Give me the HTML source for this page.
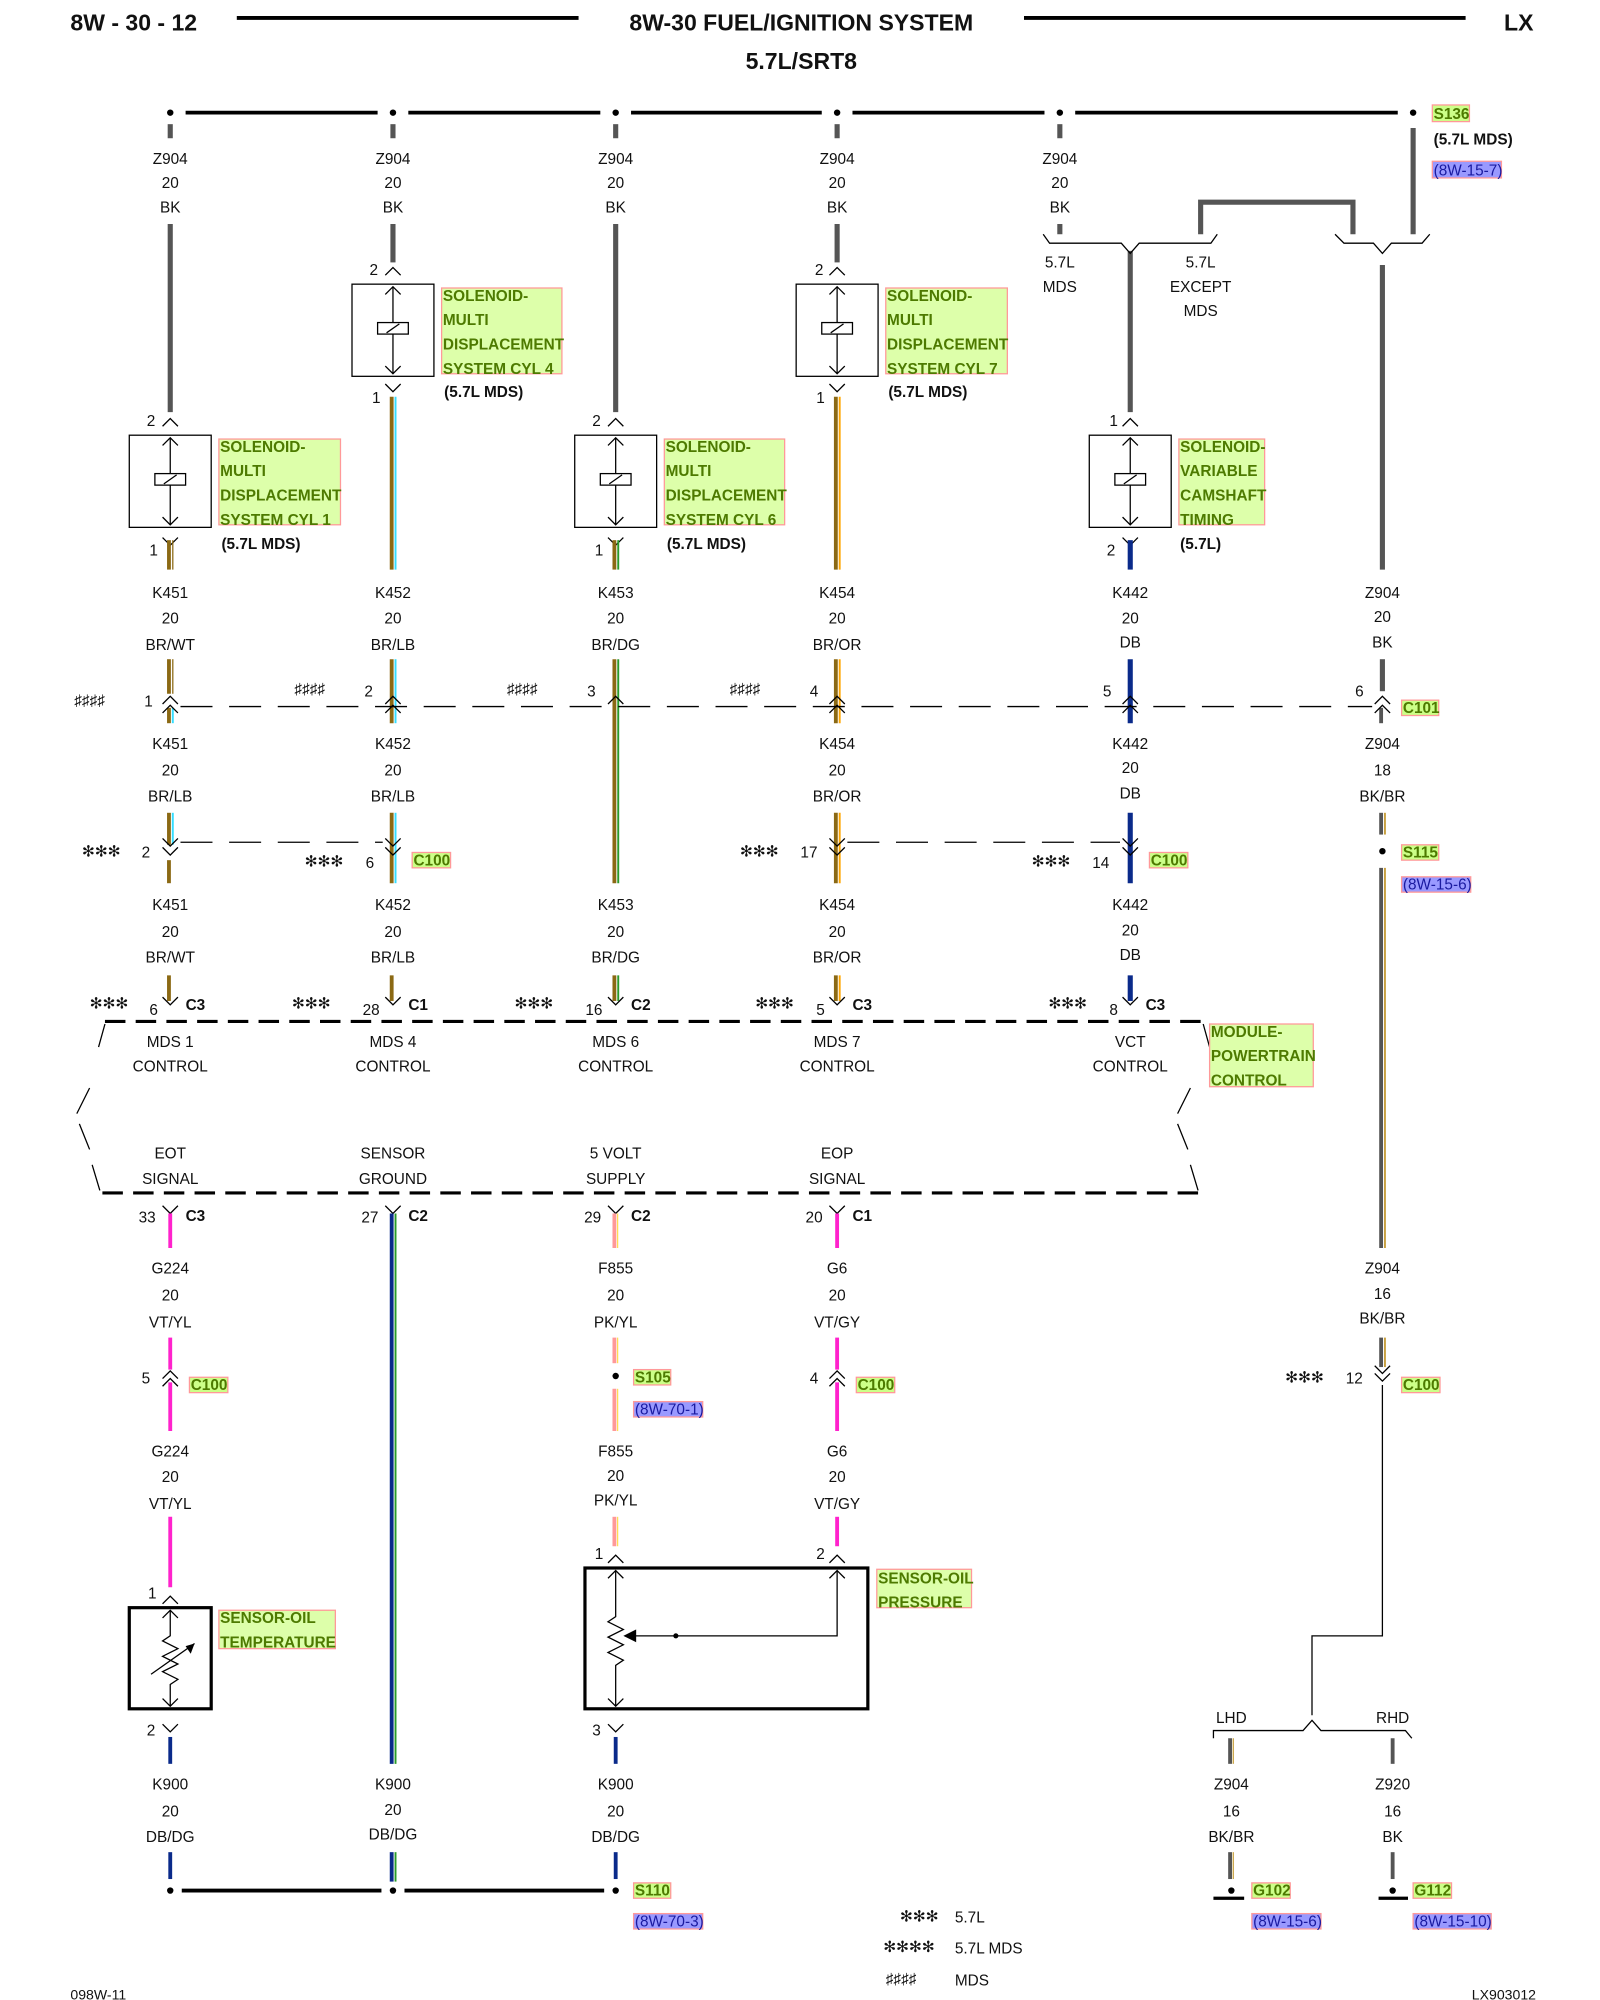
<!DOCTYPE html>
<html><head><meta charset="utf-8"><style>
html,body{margin:0;padding:0;background:#fff}
svg{display:block}
text{font-family:"Liberation Sans",sans-serif;font-size:12px;fill:#111}
.m{text-anchor:middle}
.b{font-weight:bold}
.h{font-size:18px;font-weight:bold}
.g{font-weight:bold;fill:#4d7a00;font-size:12px}
.l{fill:#1a1aa0;font-size:12px}
</style></head><body>
<svg width="1600" height="2000" viewBox="0 0 1250 1562.5" xmlns="http://www.w3.org/2000/svg">
<defs>
<path id="up" d="M-6,5 L0,-1 L6,5" fill="none" stroke="#000" stroke-width="1"/>
<path id="dn" d="M-6,-5 L0,1 L6,-5" fill="none" stroke="#000" stroke-width="1"/>
<g id="sol">
<rect x="-32" y="0" width="64" height="72" fill="#fff" stroke="#000"/>
<line x1="0" y1="2" x2="0" y2="70" stroke="#000"/>
<path d="M-6,8 L0,2 L6,8 M-6,64 L0,70 L6,64" fill="none" stroke="#000"/>
<rect x="-12" y="30" width="24" height="9" fill="#fff" stroke="#000"/>
<line x1="-5" y1="38" x2="5" y2="31" stroke="#000"/>
</g>
</defs>

<text x="55" y="24" class="h">8W - 30 - 12</text>
<line x1="185" y1="14" x2="452" y2="14" stroke="#000" stroke-width="3"/>
<text x="626" y="24" class="h m">8W-30 FUEL/IGNITION SYSTEM</text>
<line x1="800" y1="14" x2="1145" y2="14" stroke="#000" stroke-width="3"/>
<text x="1198" y="24" class="h" text-anchor="end">LX</text>
<text x="626" y="54" class="h m">5.7L/SRT8</text>

<g stroke="#000" stroke-width="3">
<line x1="145" y1="88" x2="295" y2="88"/><line x1="319" y1="88" x2="469" y2="88"/>
<line x1="493" y1="88" x2="642" y2="88"/><line x1="666" y1="88" x2="816" y2="88"/>
<line x1="840" y1="88" x2="1092" y2="88"/>
</g>
<g fill="#000"><circle cx="133" cy="88" r="2.5"/><circle cx="307" cy="88" r="2.5"/><circle cx="481" cy="88" r="2.5"/><circle cx="654" cy="88" r="2.5"/><circle cx="828" cy="88" r="2.5"/><circle cx="1104" cy="88" r="2.5"/></g>
<g stroke="#555" stroke-width="4">
<line x1="133" y1="97" x2="133" y2="108"/><line x1="307" y1="97" x2="307" y2="108"/><line x1="481" y1="97" x2="481" y2="108"/><line x1="654" y1="97" x2="654" y2="108"/><line x1="828" y1="97" x2="828" y2="108"/>
</g>
<g class="m">
<text x="133" y="128" class="m">Z904</text><text x="133" y="147" class="m">20</text><text x="133" y="166" class="m">BK</text>
<text x="307" y="128" class="m">Z904</text><text x="307" y="147" class="m">20</text><text x="307" y="166" class="m">BK</text>
<text x="481" y="128" class="m">Z904</text><text x="481" y="147" class="m">20</text><text x="481" y="166" class="m">BK</text>
<text x="654" y="128" class="m">Z904</text><text x="654" y="147" class="m">20</text><text x="654" y="166" class="m">BK</text>
<text x="828" y="128" class="m">Z904</text><text x="828" y="147" class="m">20</text><text x="828" y="166" class="m">BK</text>
</g>
<rect x="1119" y="82" width="29" height="13" fill="#ccff88" stroke="#f99"/><text x="1120" y="93" class="g">S136</text>
<text x="1120" y="113" class="b">(5.7L MDS)</text>
<rect x="1119" y="126" width="54" height="13" fill="#9999ff" stroke="#f99"/><text x="1120" y="137" class="l">(8W-15-7)</text>

<g stroke="#555" stroke-width="4" fill="none">
<line x1="133" y1="175" x2="133" y2="322"/>
<line x1="307" y1="175" x2="307" y2="205"/>
<line x1="481" y1="175" x2="481" y2="322"/>
<line x1="654" y1="175" x2="654" y2="205"/>
<line x1="828" y1="175" x2="828" y2="183"/>
<line x1="883" y1="196" x2="883" y2="322"/>
<path d="M938,183 V158 H1057 V183"/>
<line x1="1104" y1="100" x2="1104" y2="183"/>
<line x1="1080" y1="207" x2="1080" y2="445"/>
<line x1="1080" y1="515" x2="1080" y2="540"/>
</g>
<path d="M815,183 L820,190 H876 L883,198 L890,190 H946 L951,183" fill="none" stroke="#000"/>
<path d="M1043,183 L1050,190 H1073 L1080,198 L1087,190 H1111 L1117,183" fill="none" stroke="#000"/>
<text x="828" y="209" class="m">5.7L</text><text x="828" y="228" class="m">MDS</text>
<text x="938" y="209" class="m">5.7L</text><text x="938" y="228" class="m">EXCEPT</text><text x="938" y="247" class="m">MDS</text>

<use href="#up" x="307" y="210"/><text x="292" y="215" class="m">2</text>
<use href="#sol" x="307" y="222"/>
<use href="#dn" x="307" y="305"/><text x="294" y="315" class="m">1</text>
<rect x="345" y="225" width="94" height="67" fill="#ddffaa" stroke="#f99"/>
<text x="346" y="235" class="g">SOLENOID-</text><text x="346" y="254" class="g">MULTI</text><text x="346" y="273" class="g">DISPLACEMENT</text><text x="346" y="292" class="g">SYSTEM CYL 4</text>
<text x="347" y="310" class="b">(5.7L MDS)</text>

<use href="#up" x="654" y="210"/><text x="640" y="215" class="m">2</text>
<use href="#sol" x="654" y="222"/>
<use href="#dn" x="654" y="305"/><text x="641" y="315" class="m">1</text>
<rect x="692" y="225" width="95" height="67" fill="#ddffaa" stroke="#f99"/>
<text x="693" y="235" class="g">SOLENOID-</text><text x="693" y="254" class="g">MULTI</text><text x="693" y="273" class="g">DISPLACEMENT</text><text x="693" y="292" class="g">SYSTEM CYL 7</text>
<text x="694" y="310" class="b">(5.7L MDS)</text>

<use href="#up" x="133" y="328"/><text x="118" y="333" class="m">2</text>
<use href="#sol" x="133" y="340"/>
<use href="#dn" x="133" y="425"/><text x="120" y="434" class="m">1</text>
<rect x="171" y="343" width="95" height="67" fill="#ddffaa" stroke="#f99"/>
<text x="172" y="353" class="g">SOLENOID-</text><text x="172" y="372" class="g">MULTI</text><text x="172" y="391" class="g">DISPLACEMENT</text><text x="172" y="410" class="g">SYSTEM CYL 1</text>
<text x="173" y="429" class="b">(5.7L MDS)</text>

<use href="#up" x="481" y="328"/><text x="466" y="333" class="m">2</text>
<use href="#sol" x="481" y="340"/>
<use href="#dn" x="481" y="425"/><text x="468" y="434" class="m">1</text>
<rect x="519" y="343" width="94" height="67" fill="#ddffaa" stroke="#f99"/>
<text x="520" y="353" class="g">SOLENOID-</text><text x="520" y="372" class="g">MULTI</text><text x="520" y="391" class="g">DISPLACEMENT</text><text x="520" y="410" class="g">SYSTEM CYL 6</text>
<text x="521" y="429" class="b">(5.7L MDS)</text>

<use href="#up" x="883" y="328"/><text x="870" y="333" class="m">1</text>
<use href="#sol" x="883" y="340"/>
<use href="#dn" x="883" y="425"/><text x="868" y="434" class="m">2</text>
<rect x="921" y="343" width="67" height="67" fill="#ddffaa" stroke="#f99"/>
<text x="922" y="353" class="g">SOLENOID-</text><text x="922" y="372" class="g">VARIABLE</text><text x="922" y="391" class="g">CAMSHAFT</text><text x="922" y="410" class="g">TIMING</text>
<text x="922" y="429" class="b">(5.7L)</text>

<g stroke-width="3">
<line x1="132" y1="422" x2="132" y2="445" stroke="#8b6914"/><line x1="135" y1="422" x2="135" y2="445" stroke="#8b6914" stroke-width="1"/>
<line x1="132" y1="515" x2="132" y2="542" stroke="#8b6914"/><line x1="135" y1="515" x2="135" y2="542" stroke="#8b6914" stroke-width="1"/>
<line x1="132" y1="553" x2="132" y2="565" stroke="#8b6914"/><line x1="135" y1="553" x2="135" y2="565" stroke="#33ddff" stroke-width="1.5"/>
<line x1="132" y1="635" x2="132" y2="660" stroke="#8b6914"/><line x1="135" y1="635" x2="135" y2="660" stroke="#33ddff" stroke-width="1.5"/>
<line x1="132" y1="672" x2="132" y2="690" stroke="#8b6914"/>
<line x1="132" y1="762" x2="132" y2="782" stroke="#8b6914"/>
<line x1="306" y1="310" x2="306" y2="445" stroke="#8b6914"/><line x1="309" y1="310" x2="309" y2="445" stroke="#33ddff" stroke-width="1.5"/>
<line x1="306" y1="515" x2="306" y2="565" stroke="#8b6914"/><line x1="309" y1="515" x2="309" y2="565" stroke="#33ddff" stroke-width="1.5"/>
<line x1="306" y1="635" x2="306" y2="690" stroke="#8b6914"/><line x1="309" y1="635" x2="309" y2="690" stroke="#33ddff" stroke-width="1.5"/>
<line x1="306" y1="762" x2="306" y2="782" stroke="#8b6914"/>
<line x1="480" y1="422" x2="480" y2="445" stroke="#8b6914"/><line x1="483" y1="422" x2="483" y2="445" stroke="#2a9a2a" stroke-width="1.5"/>
<line x1="480" y1="515" x2="480" y2="690" stroke="#8b6914"/><line x1="483" y1="515" x2="483" y2="690" stroke="#2a9a2a" stroke-width="1.5"/>
<line x1="480" y1="762" x2="480" y2="782" stroke="#8b6914"/><line x1="483" y1="762" x2="483" y2="782" stroke="#2a9a2a" stroke-width="1.5"/>
<line x1="653" y1="310" x2="653" y2="445" stroke="#8b6914"/><line x1="656" y1="310" x2="656" y2="445" stroke="#ffa500" stroke-width="1.5"/>
<line x1="653" y1="515" x2="653" y2="565" stroke="#8b6914"/><line x1="656" y1="515" x2="656" y2="565" stroke="#ffa500" stroke-width="1.5"/>
<line x1="653" y1="635" x2="653" y2="690" stroke="#8b6914"/><line x1="656" y1="635" x2="656" y2="690" stroke="#ffa500" stroke-width="1.5"/>
<line x1="653" y1="762" x2="653" y2="782" stroke="#8b6914"/><line x1="656" y1="762" x2="656" y2="782" stroke="#ffa500" stroke-width="1.5"/>
<g stroke="#0a2a8a" stroke-width="4">
<line x1="883" y1="422" x2="883" y2="445"/><line x1="883" y1="515" x2="883" y2="565"/><line x1="883" y1="635" x2="883" y2="690"/><line x1="883" y1="762" x2="883" y2="782"/>
</g>
<line x1="1079" y1="553" x2="1079" y2="565" stroke="#555"/>
<line x1="1079" y1="635" x2="1079" y2="652" stroke="#555"/><line x1="1082" y1="635" x2="1082" y2="652" stroke="#c8a040" stroke-width="1.5"/>
<line x1="1079" y1="678" x2="1079" y2="975" stroke="#555"/><line x1="1082" y1="678" x2="1082" y2="975" stroke="#c8a040" stroke-width="1.5"/>
<line x1="1079" y1="1045" x2="1079" y2="1068" stroke="#555"/><line x1="1082" y1="1045" x2="1082" y2="1068" stroke="#c8a040" stroke-width="1.5"/>
</g>

<g>
<text x="133" y="467" class="m">K451</text><text x="133" y="487" class="m">20</text><text x="133" y="508" class="m">BR/WT</text>
<text x="307" y="467" class="m">K452</text><text x="307" y="487" class="m">20</text><text x="307" y="508" class="m">BR/LB</text>
<text x="481" y="467" class="m">K453</text><text x="481" y="487" class="m">20</text><text x="481" y="508" class="m">BR/DG</text>
<text x="654" y="467" class="m">K454</text><text x="654" y="487" class="m">20</text><text x="654" y="508" class="m">BR/OR</text>
<text x="883" y="467" class="m">K442</text><text x="883" y="487" class="m">20</text><text x="883" y="506" class="m">DB</text>
<text x="1080" y="467" class="m">Z904</text><text x="1080" y="486" class="m">20</text><text x="1080" y="506" class="m">BK</text>

<text x="133" y="585" class="m">K451</text><text x="133" y="606" class="m">20</text><text x="133" y="626" class="m">BR/LB</text>
<text x="307" y="585" class="m">K452</text><text x="307" y="606" class="m">20</text><text x="307" y="626" class="m">BR/LB</text>
<text x="654" y="585" class="m">K454</text><text x="654" y="606" class="m">20</text><text x="654" y="626" class="m">BR/OR</text>
<text x="883" y="585" class="m">K442</text><text x="883" y="604" class="m">20</text><text x="883" y="624" class="m">DB</text>
<text x="1080" y="585" class="m">Z904</text><text x="1080" y="606" class="m">18</text><text x="1080" y="626" class="m">BK/BR</text>

<text x="133" y="711" class="m">K451</text><text x="133" y="732" class="m">20</text><text x="133" y="752" class="m">BR/WT</text>
<text x="307" y="711" class="m">K452</text><text x="307" y="732" class="m">20</text><text x="307" y="752" class="m">BR/LB</text>
<text x="481" y="711" class="m">K453</text><text x="481" y="732" class="m">20</text><text x="481" y="752" class="m">BR/DG</text>
<text x="654" y="711" class="m">K454</text><text x="654" y="732" class="m">20</text><text x="654" y="752" class="m">BR/OR</text>
<text x="883" y="711" class="m">K442</text><text x="883" y="731" class="m">20</text><text x="883" y="750" class="m">DB</text>
</g>

<path d="M141,552 H1072" stroke="#000" stroke-dasharray="25,13" fill="none"/>
<g>
<use href="#up" x="133" y="545"/><use href="#up" x="133" y="552"/>
<use href="#up" x="307" y="545"/><use href="#up" x="307" y="552"/>
<use href="#up" x="481" y="545"/>
<use href="#up" x="654" y="545"/><use href="#up" x="654" y="552"/>
<use href="#up" x="883" y="545"/><use href="#up" x="883" y="552"/>
<use href="#up" x="1080" y="545"/><use href="#up" x="1080" y="552"/>
</g>
<text x="116" y="552" class="m">1</text><text x="288" y="544" class="m">2</text><text x="462" y="544" class="m">3</text><text x="636" y="544" class="m">4</text><text x="865" y="544" class="m">5</text><text x="1062" y="544" class="m">6</text>
<text x="58" y="551">♯♯♯♯</text><text x="230" y="542">♯♯♯♯</text><text x="396" y="542">♯♯♯♯</text><text x="570" y="542">♯♯♯♯</text>
<rect x="1095" y="547" width="29" height="12" fill="#ccff88" stroke="#f99"/><text x="1096" y="557" class="g">C101</text>

<path d="M141,658 H299 M662,658 H875" stroke="#000" stroke-dasharray="25,13" fill="none"/>
<use href="#dn" x="133" y="660"/><use href="#dn" x="133" y="667"/>
<use href="#dn" x="307" y="660"/><use href="#dn" x="307" y="667"/>
<use href="#dn" x="654" y="660"/><use href="#dn" x="654" y="667"/>
<use href="#dn" x="883" y="660"/><use href="#dn" x="883" y="667"/>
<text x="114" y="670" class="m">2</text><text x="289" y="678" class="m">6</text><text x="632" y="670" class="m">17</text><text x="860" y="678" class="m">14</text>
<text x="64" y="669">✻✻✻</text><text x="238" y="677">✻✻✻</text><text x="578" y="669">✻✻✻</text><text x="806" y="677">✻✻✻</text>
<rect x="322" y="666" width="30" height="12" fill="#ccff88" stroke="#f99"/><text x="323" y="676" class="g">C100</text>
<rect x="898" y="666" width="30" height="12" fill="#ccff88" stroke="#f99"/><text x="899" y="676" class="g">C100</text>
<circle cx="1080" cy="665" r="2.5" fill="#000"/>
<rect x="1095" y="660" width="29" height="12" fill="#ccff88" stroke="#f99"/><text x="1096" y="670" class="g">S115</text>
<rect x="1095" y="685" width="54" height="12" fill="#9999ff" stroke="#f99"/><text x="1096" y="695" class="l">(8W-15-6)</text>

<use href="#dn" x="133" y="784"/><use href="#dn" x="307" y="784"/><use href="#dn" x="481" y="784"/><use href="#dn" x="654" y="784"/><use href="#dn" x="883" y="784"/>
<text x="120" y="793" class="m">6</text><text x="145" y="789" class="b">C3</text><text x="70" y="788">✻✻✻</text>
<text x="290" y="793" class="m">28</text><text x="319" y="789" class="b">C1</text><text x="228" y="788">✻✻✻</text>
<text x="464" y="793" class="m">16</text><text x="493" y="789" class="b">C2</text><text x="402" y="788">✻✻✻</text>
<text x="641" y="793" class="m">5</text><text x="666" y="789" class="b">C3</text><text x="590" y="788">✻✻✻</text>
<text x="870" y="793" class="m">8</text><text x="895" y="789" class="b">C3</text><text x="819" y="788">✻✻✻</text>

<g stroke="#000" stroke-width="2.5" fill="none">
<path d="M82,798 H940" stroke-dasharray="16,8"/>
<path d="M80,932 H940" stroke-dasharray="16,8"/>
<path d="M82,800 L77,818 M70,850 L60,870 M62,878 L70,898 M72,910 L78,930" stroke-width="1"/>
<path d="M940,800 L945,818 M930,850 L920,870 M920,878 L928,898 M930,910 L936,930" stroke-width="1"/>
</g>
<rect x="945" y="800" width="81" height="49" fill="#ddffaa" stroke="#f99"/>
<text x="946" y="810" class="g">MODULE-</text><text x="946" y="829" class="g">POWERTRAIN</text><text x="946" y="848" class="g">CONTROL</text>
<text x="133" y="818" class="m">MDS 1</text><text x="133" y="837" class="m">CONTROL</text>
<text x="307" y="818" class="m">MDS 4</text><text x="307" y="837" class="m">CONTROL</text>
<text x="481" y="818" class="m">MDS 6</text><text x="481" y="837" class="m">CONTROL</text>
<text x="654" y="818" class="m">MDS 7</text><text x="654" y="837" class="m">CONTROL</text>
<text x="883" y="818" class="m">VCT</text><text x="883" y="837" class="m">CONTROL</text>
<text x="133" y="905" class="m">EOT</text><text x="133" y="925" class="m">SIGNAL</text>
<text x="307" y="905" class="m">SENSOR</text><text x="307" y="925" class="m">GROUND</text>
<text x="481" y="905" class="m">5 VOLT</text><text x="481" y="925" class="m">SUPPLY</text>
<text x="654" y="905" class="m">EOP</text><text x="654" y="925" class="m">SIGNAL</text>

<g>
<path d="M127,942 L133,948 L139,942 M133,948 V950" stroke="#000" fill="none"/>
<path d="M301,942 L307,948 L313,942" stroke="#000" fill="none"/>
<path d="M475,942 L481,948 L487,942" stroke="#000" fill="none"/>
<path d="M648,942 L654,948 L660,942" stroke="#000" fill="none"/>
</g>
<text x="115" y="955" class="m">33</text><text x="145" y="954" class="b">C3</text>
<text x="289" y="955" class="m">27</text><text x="319" y="954" class="b">C2</text>
<text x="463" y="955" class="m">29</text><text x="493" y="954" class="b">C2</text>
<text x="636" y="955" class="m">20</text><text x="666" y="954" class="b">C1</text>

<g stroke-width="3">
<line x1="133" y1="948" x2="133" y2="975" stroke="#ff22cc"/>
<line x1="133" y1="1045" x2="133" y2="1070" stroke="#ff22cc"/>
<line x1="133" y1="1080" x2="133" y2="1118" stroke="#ff22cc"/>
<line x1="133" y1="1185" x2="133" y2="1240" stroke="#ff22cc"/>
<line x1="306" y1="948" x2="306" y2="1378" stroke="#0a2a8a"/><line x1="309" y1="948" x2="309" y2="1378" stroke="#2a9a2a" stroke-width="1.5"/>
<line x1="306" y1="1447" x2="306" y2="1470" stroke="#0a2a8a"/><line x1="309" y1="1447" x2="309" y2="1470" stroke="#2a9a2a" stroke-width="1.5"/>
<line x1="480" y1="948" x2="480" y2="975" stroke="#ff9999"/><line x1="482.5" y1="948" x2="482.5" y2="975" stroke="#ffdd55" stroke-width="1"/>
<line x1="480" y1="1045" x2="480" y2="1065" stroke="#ff9999"/><line x1="482.5" y1="1045" x2="482.5" y2="1065" stroke="#ffdd55" stroke-width="1"/>
<line x1="480" y1="1085" x2="480" y2="1118" stroke="#ff9999"/><line x1="482.5" y1="1085" x2="482.5" y2="1118" stroke="#ffdd55" stroke-width="1"/>
<line x1="480" y1="1185" x2="480" y2="1208" stroke="#ff9999"/><line x1="482.5" y1="1185" x2="482.5" y2="1208" stroke="#ffdd55" stroke-width="1"/>
<line x1="654" y1="948" x2="654" y2="975" stroke="#ff22cc"/>
<line x1="654" y1="1045" x2="654" y2="1070" stroke="#ff22cc"/>
<line x1="654" y1="1080" x2="654" y2="1118" stroke="#ff22cc"/>
<line x1="654" y1="1185" x2="654" y2="1208" stroke="#ff22cc"/>
<line x1="133" y1="1357" x2="133" y2="1378" stroke="#0a2a8a"/>
<line x1="481" y1="1357" x2="481" y2="1378" stroke="#0a2a8a"/>
<line x1="133" y1="1447" x2="133" y2="1468" stroke="#0a2a8a"/>
<line x1="481" y1="1447" x2="481" y2="1468" stroke="#0a2a8a"/>
<line x1="961" y1="1358" x2="961" y2="1378" stroke="#555"/><line x1="963.5" y1="1358" x2="963.5" y2="1378" stroke="#c8a040" stroke-width="1"/>
<line x1="961" y1="1447" x2="961" y2="1468" stroke="#555"/><line x1="963.5" y1="1447" x2="963.5" y2="1468" stroke="#c8a040" stroke-width="1"/>
<line x1="1088" y1="1358" x2="1088" y2="1378" stroke="#555"/>
<line x1="1088" y1="1447" x2="1088" y2="1468" stroke="#555"/>
</g>

<text x="133" y="995" class="m">G224</text><text x="133" y="1016" class="m">20</text><text x="133" y="1037" class="m">VT/YL</text>
<text x="481" y="995" class="m">F855</text><text x="481" y="1016" class="m">20</text><text x="481" y="1037" class="m">PK/YL</text>
<text x="654" y="995" class="m">G6</text><text x="654" y="1016" class="m">20</text><text x="654" y="1037" class="m">VT/GY</text>
<text x="1080" y="995" class="m">Z904</text><text x="1080" y="1015" class="m">16</text><text x="1080" y="1034" class="m">BK/BR</text>

<use href="#up" x="133" y="1072"/><use href="#up" x="133" y="1078"/>
<text x="114" y="1081" class="m">5</text>
<rect x="148" y="1076" width="30" height="12" fill="#ccff88" stroke="#f99"/><text x="149" y="1086" class="g">C100</text>
<circle cx="481" cy="1075" r="2.5" fill="#000"/>
<rect x="495" y="1070" width="29" height="12" fill="#ccff88" stroke="#f99"/><text x="496" y="1080" class="g">S105</text>
<rect x="495" y="1095" width="54" height="12" fill="#9999ff" stroke="#f99"/><text x="496" y="1105" class="l">(8W-70-1)</text>
<use href="#up" x="654" y="1072"/><use href="#up" x="654" y="1078"/>
<text x="636" y="1081" class="m">4</text>
<rect x="669" y="1076" width="30" height="12" fill="#ccff88" stroke="#f99"/><text x="670" y="1086" class="g">C100</text>
<use href="#dn" x="1080" y="1072"/><use href="#dn" x="1080" y="1078"/>
<text x="1058" y="1081" class="m">12</text><text x="1004" y="1080">✻✻✻</text>
<rect x="1095" y="1076" width="30" height="12" fill="#ccff88" stroke="#f99"/><text x="1096" y="1086" class="g">C100</text>

<text x="133" y="1138" class="m">G224</text><text x="133" y="1158" class="m">20</text><text x="133" y="1179" class="m">VT/YL</text>
<text x="481" y="1138" class="m">F855</text><text x="481" y="1157" class="m">20</text><text x="481" y="1176" class="m">PK/YL</text>
<text x="654" y="1138" class="m">G6</text><text x="654" y="1158" class="m">20</text><text x="654" y="1179" class="m">VT/GY</text>

<path d="M1080,1082 V1278 H1025 V1340" stroke="#000" fill="none"/>
<path d="M948,1358 V1352 H1018 L1025,1344 L1032,1352 H1098 L1103,1358" stroke="#000" fill="none"/>
<text x="962" y="1346" class="m">LHD</text><text x="1088" y="1346" class="m">RHD</text>

<use href="#up" x="133" y="1248"/><text x="119" y="1249" class="m">1</text>
<rect x="101" y="1256" width="64" height="79" fill="#fff" stroke="#000" stroke-width="2.5"/>
<path d="M133,1258 V1278 L127,1282 L139,1288 L127,1294 L139,1300 L127,1306 L139,1312 L133,1316 V1333" stroke="#000" fill="none"/>
<path d="M127,1264 L133,1258 L139,1264 M127,1327 L133,1333 L139,1327" stroke="#000" fill="none"/>
<path d="M118,1308 L152,1284" stroke="#000"/><path d="M152,1284 L145,1286 L149,1292 Z" fill="#000"/>
<use href="#dn" x="133" y="1352"/><text x="118" y="1356" class="m">2</text>
<rect x="171" y="1258" width="91" height="30" fill="#ddffaa" stroke="#f99"/>
<text x="172" y="1268" class="g">SENSOR-OIL</text><text x="172" y="1287" class="g">TEMPERATURE</text>

<use href="#up" x="481" y="1216"/><text x="468" y="1218" class="m">1</text>
<use href="#up" x="654" y="1216"/><text x="641" y="1218" class="m">2</text>
<rect x="457" y="1225" width="221" height="110" fill="#fff" stroke="#000" stroke-width="2.5"/>
<path d="M481,1227 V1263 L475,1267 L487,1273 L475,1279 L487,1285 L475,1291 L487,1297 L481,1301 V1333" stroke="#000" fill="none"/>
<path d="M475,1233 L481,1227 L487,1233 M475,1327 L481,1333 L487,1327 M648,1233 L654,1227 L660,1233" stroke="#000" fill="none"/>
<path d="M490,1278 H654 V1227" stroke="#000" fill="none"/>
<path d="M487,1278 L497,1273 L497,1283 Z" fill="#000"/><circle cx="528" cy="1278" r="2" fill="#000"/>
<use href="#dn" x="481" y="1352"/><text x="466" y="1356" class="m">3</text>
<rect x="685" y="1226" width="74" height="30" fill="#ddffaa" stroke="#f99"/>
<text x="686" y="1237" class="g">SENSOR-OIL</text><text x="686" y="1256" class="g">PRESSURE</text>

<text x="133" y="1398" class="m">K900</text><text x="133" y="1419" class="m">20</text><text x="133" y="1439" class="m">DB/DG</text>
<text x="307" y="1398" class="m">K900</text><text x="307" y="1418" class="m">20</text><text x="307" y="1437" class="m">DB/DG</text>
<text x="481" y="1398" class="m">K900</text><text x="481" y="1419" class="m">20</text><text x="481" y="1439" class="m">DB/DG</text>
<text x="962" y="1398" class="m">Z904</text><text x="962" y="1419" class="m">16</text><text x="962" y="1439" class="m">BK/BR</text>
<text x="1088" y="1398" class="m">Z920</text><text x="1088" y="1419" class="m">16</text><text x="1088" y="1439" class="m">BK</text>

<g stroke="#000" stroke-width="3"><line x1="142" y1="1477" x2="298" y2="1477"/><line x1="316" y1="1477" x2="472" y2="1477"/></g>
<circle cx="133" cy="1477" r="2.5" fill="#000"/><circle cx="307" cy="1477" r="2.5" fill="#000"/><circle cx="481" cy="1477" r="2.5" fill="#000"/>
<rect x="495" y="1471" width="29" height="12" fill="#ccff88" stroke="#f99"/><text x="496" y="1481" class="g">S110</text>
<rect x="495" y="1495" width="54" height="12" fill="#9999ff" stroke="#f99"/><text x="496" y="1505" class="l">(8W-70-3)</text>

<circle cx="962" cy="1477" r="2.5" fill="#000"/><line x1="948" y1="1483" x2="972" y2="1483" stroke="#000" stroke-width="2.5"/>
<rect x="978" y="1471" width="30" height="12" fill="#ccff88" stroke="#f99"/><text x="979" y="1481" class="g">G102</text>
<rect x="978" y="1495" width="54" height="12" fill="#9999ff" stroke="#f99"/><text x="979" y="1505" class="l">(8W-15-6)</text>
<circle cx="1088" cy="1477" r="2.5" fill="#000"/><line x1="1077" y1="1483" x2="1100" y2="1483" stroke="#000" stroke-width="2.5"/>
<rect x="1104" y="1471" width="30" height="12" fill="#ccff88" stroke="#f99"/><text x="1105" y="1481" class="g">G112</text>
<rect x="1104" y="1495" width="61" height="12" fill="#9999ff" stroke="#f99"/><text x="1105" y="1505" class="l">(8W-15-10)</text>

<text x="703" y="1501">✻✻✻</text><text x="746" y="1502">5.7L</text>
<text x="690" y="1525">✻✻✻✻</text><text x="746" y="1526">5.7L MDS</text>
<text x="692" y="1550">♯♯♯♯</text><text x="746" y="1551">MDS</text>

<text x="55" y="1562" style="font-size:11px">098W-11</text>
<text x="1200" y="1562" style="font-size:11px" text-anchor="end">LX903012</text>
</svg>
</body></html>
